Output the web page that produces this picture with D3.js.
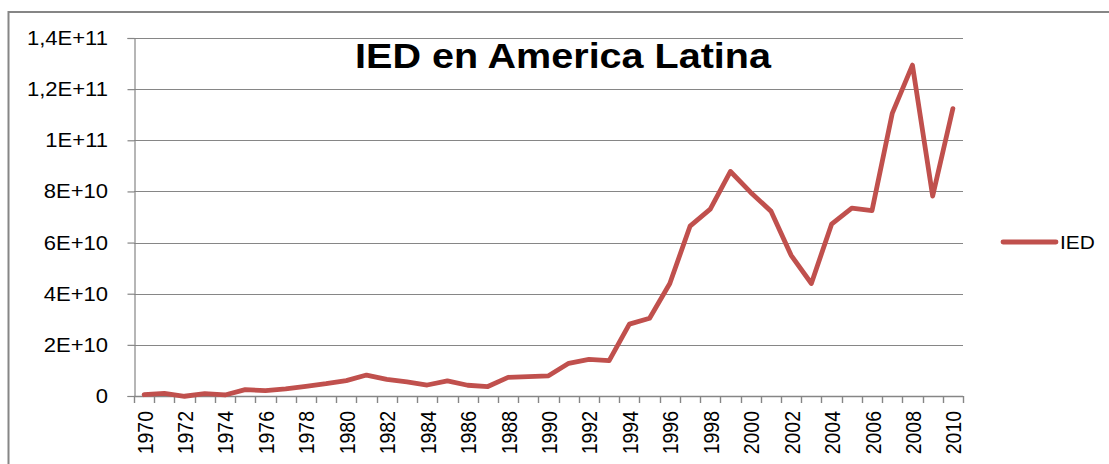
<!DOCTYPE html>
<html>
<head>
<meta charset="utf-8">
<script src="https://cdn.jsdelivr.net/npm/d3@7"></script>
<style>
  html, body { margin: 0; padding: 0; background: #fff; }
  svg { display: block; font-family: "Liberation Sans", Arial, sans-serif; }
</style>
</head>
<body>
<div id="chart"></div>
<script>
// categories (years) and IED series, values in billions of USD
const years = [1970, 1971, 1972, 1973, 1974, 1975, 1976, 1977, 1978, 1979,
               1980, 1981, 1982, 1983, 1984, 1985, 1986, 1987, 1988, 1989,
               1990, 1991, 1992, 1993, 1994, 1995, 1996, 1997, 1998, 1999,
               2000, 2001, 2002, 2003, 2004, 2005, 2006, 2007, 2008, 2009, 2010];
const iedValues = [0.5, 1.0, -0.1, 0.9, 0.4, 2.5, 2.1, 2.8, 3.8, 4.8,
                   6.0, 8.2, 6.5, 5.5, 4.3, 5.9, 4.2, 3.7, 7.3, 7.6,
                   7.9, 12.8, 14.3, 13.8, 28.1, 30.4, 44.0, 66.4, 73.1, 87.8,
                   79.6, 72.3, 55.0, 44.0, 67.2, 73.5, 72.5, 110.5, 129.4, 78.2, 112.4];
const yTickValues = [0, 20, 40, 60, 80, 100, 120, 140];
const yTickLabels = ['0', '2E+10', '4E+10', '6E+10', '8E+10', '1E+11', '1,2E+11', '1,4E+11'];
const xLabelYears = [1970, 1972, 1974, 1976, 1978, 1980, 1982, 1984, 1986, 1988, 1990,
                     1992, 1994, 1996, 1998, 2000, 2002, 2004, 2006, 2008, 2010];
const seriesName = 'IED';
const chartTitle = 'IED en America Latina';

const W = 1109, H = 464;
const plot = { left: 134, right: 963, top: 38, bottom: 396 };
const lineColor = '#c0504d';
const gridColor = '#868686';
const stretch = 1.13;

const svg = d3.select('#chart').append('svg')
    .attr('width', W)
    .attr('height', H);

// outer chart border
svg.append('rect')
    .attr('x', 8.5).attr('y', 12)
    .attr('width', 1130).attr('height', 480)
    .attr('fill', '#fff')
    .attr('stroke', gridColor)
    .attr('stroke-width', 2);

const x = d3.scaleBand()
    .domain(years)
    .range([plot.left, plot.right])
    .padding(0);

const y = d3.scaleLinear()
    .domain([0, 140])
    .range([plot.bottom, plot.top]);

// horizontal gridlines
svg.append('g')
    .selectAll('line')
    .data(yTickValues.filter(v => v > 0))
    .join('line')
    .attr('x1', plot.left).attr('x2', plot.right)
    .attr('y1', d => Math.round(y(d)) + 0.5)
    .attr('y2', d => Math.round(y(d)) + 0.5)
    .attr('stroke', gridColor)
    .attr('stroke-width', 1.2);

// y axis
const yAxis = svg.append('g')
    .attr('transform', `translate(${plot.left + 0.5},0)`)
    .call(d3.axisLeft(y).tickValues(yTickValues).tickSize(7).tickFormat(''));
yAxis.select('.domain').attr('stroke', gridColor).attr('stroke-width', 1.2);
yAxis.selectAll('.tick line').attr('stroke', gridColor).attr('stroke-width', 1.2);

svg.append('g')
    .selectAll('text')
    .data(yTickValues)
    .join('text')
    .attr('transform', d => `translate(108,${y(d) + 7}) scale(${stretch},1)`)
    .attr('text-anchor', 'end')
    .attr('font-size', 19.5)
    .attr('fill', '#000')
    .text((d, i) => yTickLabels[i]);

// x axis: baseline plus tick marks on category boundaries
const xAxisG = svg.append('g');
xAxisG.append('line')
    .attr('x1', plot.left).attr('x2', plot.right)
    .attr('y1', plot.bottom + 0.5).attr('y2', plot.bottom + 0.5)
    .attr('stroke', gridColor)
    .attr('stroke-width', 1.4);
xAxisG.selectAll('line.tick')
    .data(years.concat([null]))
    .join('line')
    .attr('class', 'tick')
    .attr('x1', d => Math.round(d === null ? plot.right : x(d)) + 0.5)
    .attr('x2', d => Math.round(d === null ? plot.right : x(d)) + 0.5)
    .attr('y1', plot.bottom)
    .attr('y2', plot.bottom + 7)
    .attr('stroke', gridColor)
    .attr('stroke-width', 1.4);

xAxisG.selectAll('text')
    .data(xLabelYears)
    .join('text')
    .attr('transform', d => `translate(${x(d) + x.bandwidth() / 2 + 8.5},411) rotate(-90) scale(1,${stretch})`)
    .attr('text-anchor', 'end')
    .attr('font-size', 19.5)
    .attr('fill', '#000')
    .text(d => d);

// series line
const line = d3.line()
    .x((d, i) => x(years[i]) + x.bandwidth() / 2)
    .y(d => y(d));

svg.append('path')
    .datum(iedValues)
    .attr('d', line)
    .attr('fill', 'none')
    .attr('stroke', lineColor)
    .attr('stroke-width', 4.8)
    .attr('stroke-linejoin', 'round')
    .attr('stroke-linecap', 'round');

// title
svg.append('text')
    .attr('transform', `translate(563,68) scale(${stretch},1)`)
    .attr('text-anchor', 'middle')
    .attr('font-size', 35)
    .attr('font-weight', 'bold')
    .attr('fill', '#000')
    .text(chartTitle);

// legend
const legend = svg.append('g').attr('transform', 'translate(1003,242)');
legend.append('line')
    .attr('x1', 0).attr('x2', 53)
    .attr('y1', 0).attr('y2', 0)
    .attr('stroke', lineColor)
    .attr('stroke-width', 4.8)
    .attr('stroke-linecap', 'round');
legend.append('text')
    .attr('transform', `translate(57,7) scale(${stretch},1)`)
    .attr('font-size', 18.5)
    .attr('fill', '#000')
    .text(seriesName);
</script>
</body>
</html>
